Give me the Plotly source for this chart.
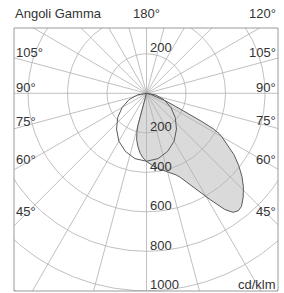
import numpy as np
import plotly.graph_objects as go

# ---- data (cd/klm) ----
gamma_c0 = [0, 5, 10, 15, 20, 22, 25, 28, 31, 34, 36, 38, 40, 43, 46, 49, 52, 55, 58, 60, 61, 62, 63, 64, 66, 68, 70, 72, 75, 80, 85, 90]
int_c0 = [345, 368, 390, 412, 440, 460, 505, 560, 630, 710, 745, 755, 748, 718, 682, 640, 592, 540, 480, 440, 420, 385, 310, 245, 155, 105, 68, 45, 22, 8, 2, 0]

gamma_c180 = [0, 3, 6, 9, 12, 14, 15, 16, 16.5]
int_c180 = [345, 328, 305, 275, 240, 200, 170, 90, 0]

gamma_c90 = [0, 10, 20, 30, 40, 50, 60, 70, 80, 90]
int_c90 = [344, 336, 313, 280, 236, 190, 142, 94, 47, 0]

radial_ticks = [200, 400, 600, 800, 1000]
grid_radii = [200, 400, 600, 800, 1000, 1200]
left_angle_labels = ["105°", "90°", "75°", "60°", "45°"]
right_angle_labels = ["105°", "90°", "75°", "60°", "45°"]

# ---- geometry helpers ----
W, H = 284, 293
CX, CY = 146.5, 93.3
K = 200 / 39.5  # units per pixel
L, R, T, B = 14, 278, 28, 291
xr = [(L - CX) * K, (R - CX) * K]
yr = [-(B - CY) * K, (CY - T) * K]


def pol(g, i, side=1):
    g = np.radians(np.asarray(g, float))
    i = np.asarray(i, float)
    return side * i * np.sin(g), -i * np.cos(g)


def paper(px, py):
    return (px - L) / (R - L), (B - py) / (B - T)


fig = go.Figure()

# filled C0-C180 shape
x180, y180 = pol(gamma_c180[::-1], int_c180[::-1], -1)
x0, y0 = pol(gamma_c0, int_c0, 1)
fx = np.concatenate([[0], x180, x0, [0]])
fy = np.concatenate([[0], y180, y0, [0]])
fig.add_trace(go.Scatter(x=fx, y=fy, mode="lines", fill="toself",
                         fillcolor="#dadada", line=dict(width=0),
                         hoverinfo="skip", showlegend=False))

# grid circles
t = np.radians(np.arange(0, 361, 1))
gx, gy = [], []
for r in grid_radii:
    gx += list(r * np.sin(t)) + [None]
    gy += list(-r * np.cos(t)) + [None]
# radial lines
for a in range(0, 360, 15):
    ar = np.radians(a)
    gx += [0, 1500 * np.sin(ar), None]
    gy += [0, -1500 * np.cos(ar), None]
fig.add_trace(go.Scatter(x=gx, y=gy, mode="lines",
                         line=dict(color="#b0b0b0", width=0.8),
                         hoverinfo="skip", showlegend=False))

# outlines
fig.add_trace(go.Scatter(x=fx, y=fy, mode="lines",
                         line=dict(color="#5a5a5a", width=1),
                         hoverinfo="skip", showlegend=False))
x270, y270 = pol(gamma_c90[::-1], int_c90[::-1], -1)
x90, y90 = pol(gamma_c90, int_c90, 1)
fig.add_trace(go.Scatter(x=np.concatenate([x270, x90]), y=np.concatenate([y270, y90]),
                         mode="lines", line=dict(color="#5a5a5a", width=1),
                         hoverinfo="skip", showlegend=False))

font = dict(family="Liberation Sans, Arial, sans-serif", size=13, color="#333333")
ann = []


def add_px(text, px, py, xa):
    x, y = paper(px, py)
    ann.append(dict(text=text, x=x, y=y, xref="paper", yref="paper",
                    xanchor=xa, yanchor="middle", showarrow=False, font=font))


add_px("Angoli Gamma", 13, 14, "left")
add_px("180°", 146.5, 14, "center")
add_px("120°", 278, 14, "right")
left_y = [52, 87, 121, 159, 211]
right_y = [52, 87, 120, 159, 211]
for lab, py in zip(left_angle_labels, left_y):
    add_px(lab, 14, py, "left")
for lab, py in zip(right_angle_labels, right_y):
    add_px(lab, 278, py, "right")
add_px("cd/klm", 278, 284, "right")

# radial value labels
for v in radial_ticks:
    ann.append(dict(text=str(v), x=1.5 * K, y=-v + 6 * K, xref="x", yref="y",
                    xanchor="left", yanchor="middle", showarrow=False, font=font))
ann.append(dict(text="200", x=1.5 * K, y=200 + 6 * K, xref="x", yref="y",
                xanchor="left", yanchor="middle", showarrow=False, font=font))

fig.update_layout(
    width=W, height=H,
    margin=dict(l=L, r=W - R, t=T, b=H - B, pad=0),
    paper_bgcolor="white", plot_bgcolor="white",
    xaxis=dict(range=xr, visible=False, fixedrange=True),
    yaxis=dict(range=yr, visible=False, fixedrange=True),
    annotations=ann,
    shapes=[dict(type="rect", xref="paper", yref="paper", x0=0, y0=0, x1=1, y1=1,
                 line=dict(color="#9a9a9a", width=1))],
    showlegend=False,
)

fig.write_html("out.html", config={"displayModeBar": False},
               post_script="document.body.style.margin='0px';document.body.style.padding='0px';document.body.style.overflow='hidden';")
